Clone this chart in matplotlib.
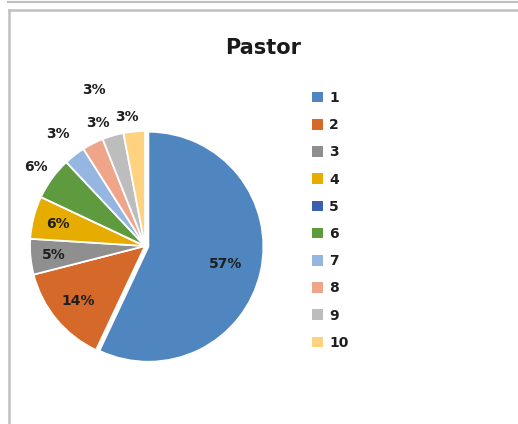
import numpy as np
import matplotlib
matplotlib.use("Agg")
import matplotlib.pyplot as plt
from matplotlib.patches import Patch
from matplotlib.lines import Line2D

# podaci
kategorije = ["1", "2", "3", "4", "5", "6", "7", "8", "9", "10"]
procenti = [57, 14, 5, 6, 0, 6, 3, 3, 3, 3]
naslov = "Pastor"

boje = ["#4F86C0", "#D4692A", "#8F8F8F", "#E6AC00", "#3A60AE",
        "#5E9A3E", "#94B6E0", "#EFA58A", "#BDBDBD", "#FFD280"]
# udaljenost natpisa od centra (u poluprecnicima) i pomak ugla (stepeni)
rastojanja = [0.72, 0.75, 0.80, 0.78, 0.0, 1.17, 1.23, 1.15, 1.43, 1.13]
pomak_ugla = [0, 0, 0, 0, 0, 0, 0, -6, 2, 2.5]

W, H = 518, 424
fig = plt.figure(figsize=(W / 100, H / 100), dpi=100)

def px(x, y):
    return x / W, 1 - y / H

# okviri kao u excelu
siva = "#C0C0C0"
fig.add_artist(Line2D([px(8, 0)[0], 1], [px(0, 1.5)[1]] * 2, color=siva, lw=1.6))
fig.add_artist(Line2D([px(9, 0)[0], 1], [px(0, 10)[1]] * 2, color=siva, lw=1.8))
fig.add_artist(Line2D([px(9, 0)[0]] * 2, [0, px(0, 10)[1]], color=siva, lw=1.8))

cx, cy, r = 145, 246, 115
ax = fig.add_axes([(cx - r) / W, (H - cy - r) / H, 2 * r / W, 2 * r / H])

explode = [0.03] + [0] * (len(procenti) - 1)
wedges, texts, auto = ax.pie(
    procenti, colors=boje, startangle=90, counterclock=False,
    explode=explode, radius=1,
    autopct=lambda p: f"{p:.0f}%" if p > 0.5 else "",
    pctdistance=0.75,
    wedgeprops=dict(edgecolor="white", linewidth=1.3),
    textprops=dict(fontsize=10, fontweight="bold", color="#1E1E1E"))

# pomeri natpise na zeljenu udaljenost
for w, t, d, da in zip(wedges, auto, rastojanja, pomak_ugla):
    ang = np.deg2rad((w.theta1 + w.theta2) / 2 + da)
    t.set_position((d * np.cos(ang), d * np.sin(ang)))
    t.set_clip_on(False)

ax.set_xlim(-1, 1)
ax.set_ylim(-1, 1)
ax.set_aspect("equal")
ax.axis("off")

fig.text(px(263, 0)[0], px(0, 48)[1], naslov, ha="center", va="center",
         fontsize=15, fontweight="bold", color="#1A1A1A")

handles = [Patch(facecolor=c, edgecolor="none") for c in boje]
fig.legend(handles, kategorije, loc="upper left",
           bbox_to_anchor=px(312, 91), frameon=False,
           prop=dict(size=10, weight="bold"), labelcolor="#1E1E1E",
           handlelength=0.8, handleheight=0.8, handletextpad=0.45,
           labelspacing=0.95, borderpad=0, borderaxespad=0)

fig.savefig("out.png", dpi=100)
